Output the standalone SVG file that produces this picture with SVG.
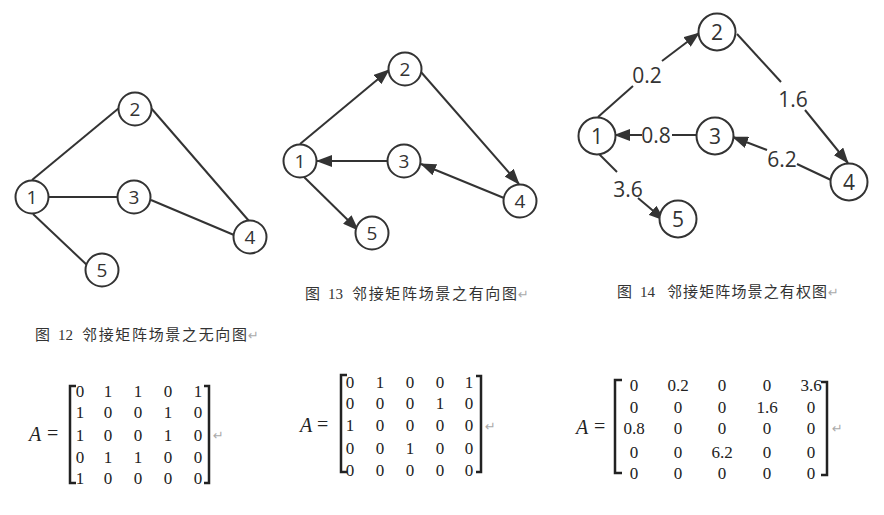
<svg xmlns="http://www.w3.org/2000/svg" width="884" height="515" viewBox="0 0 884 515">
<style>
.nd{fill:#fff;stroke:#333;stroke-width:2}
.nt{font-family:"Open Sans","DejaVu Sans",sans-serif;font-size:19px;fill:#333;text-anchor:middle}
.nt3{font-family:"Open Sans","DejaVu Sans",sans-serif;font-size:21px;fill:#333;text-anchor:middle}
.ed{stroke:#333;stroke-width:2;fill:none}
.ar{marker-end:url(#ah)}
.cap{font-family:"Noto Sans CJK SC","Liberation Serif",serif;font-size:15px;fill:#333}
.capn{font-family:"Liberation Serif",serif;font-size:15px;fill:#333}
.ret{font-family:"DejaVu Sans",sans-serif;font-size:13px;fill:#aaa}
.mx{font-family:"Liberation Serif","DejaVu Serif",serif;font-size:17px;fill:#222;text-anchor:middle}
.ma{font-family:"Liberation Serif","DejaVu Serif",serif;font-size:20px;fill:#222;font-style:italic}
.meq{font-family:"Liberation Serif","DejaVu Serif",serif;font-size:20px;fill:#222}
.br{stroke:#222;stroke-width:2.5;fill:none}
</style>
<defs>
<marker id="ah" markerWidth="16" markerHeight="12" refX="15" refY="6" orient="auto" markerUnits="userSpaceOnUse">
<path d="M0,0 L16,6 L0,12 z" fill="#333"/>
</marker>
</defs>

<g id="connectors">
<!-- graph 1 -->
<line class="ed" x1="32" y1="180" x2="119" y2="108"/>
<line class="ed" x1="151" y1="108" x2="249" y2="221"/>
<line class="ed" x1="49" y1="197" x2="117" y2="197"/>
<line class="ed" x1="151" y1="200" x2="234" y2="235"/>
<line class="ed" x1="33" y1="214" x2="88" y2="266"/>
<!-- graph 2 -->
<line class="ed ar" x1="300" y1="144" x2="389" y2="70"/>
<line class="ed ar" x1="421" y1="72" x2="519" y2="184"/>
<line class="ed ar" x1="387" y1="161" x2="317" y2="161"/>
<line class="ed ar" x1="504" y1="198" x2="421" y2="164"/>
<line class="ed ar" x1="303" y1="176" x2="358" y2="230"/>
<!-- graph 3 -->
<line class="ed" x1="598" y1="117" x2="633" y2="86"/>
<line class="ed ar" x1="662" y1="61" x2="699" y2="33"/>
<line class="ed" x1="737" y1="34" x2="781" y2="82"/>
<line class="ed ar" x1="805" y1="110" x2="848" y2="163"/>
<line class="ed" x1="697" y1="135" x2="672" y2="135"/>
<line class="ed ar" x1="642" y1="135" x2="615" y2="135"/>
<line class="ed" x1="831" y1="180" x2="797" y2="164"/>
<line class="ed ar" x1="767" y1="150" x2="733" y2="137"/>
<line class="ed" x1="599" y1="154" x2="617" y2="172"/>
<line class="ed ar" x1="638" y1="198" x2="664" y2="220"/>
<text class="nt3" x="647" y="83">0.2</text>
<text class="nt3" x="793" y="107">1.6</text>
<text class="nt3" x="656" y="143">0.8</text>
<text class="nt3" x="782" y="167">6.2</text>
<text class="nt3" x="628" y="197">3.6</text>
</g>

<g id="g1-n1"><circle class="nd" cx="32" cy="197" r="16.5"/><text class="nt" x="32" y="204">1</text></g>
<g id="g1-n2"><circle class="nd" cx="135" cy="109" r="16.5"/><text class="nt" x="135" y="116">2</text></g>
<g id="g1-n3"><circle class="nd" cx="134" cy="197" r="16.5"/><text class="nt" x="134" y="204">3</text></g>
<g id="g1-n4"><circle class="nd" cx="250" cy="237" r="16.5"/><text class="nt" x="250" y="244">4</text></g>
<g id="g1-n5"><circle class="nd" cx="102" cy="270" r="16.5"/><text class="nt" x="102" y="277">5</text></g>

<g id="g2-n1"><circle class="nd" cx="300" cy="161" r="16.5"/><text class="nt" x="300" y="168">1</text></g>
<g id="g2-n2"><circle class="nd" cx="405" cy="69" r="16.5"/><text class="nt" x="405" y="76">2</text></g>
<g id="g2-n3"><circle class="nd" cx="404" cy="161" r="16.5"/><text class="nt" x="404" y="168">3</text></g>
<g id="g2-n4"><circle class="nd" cx="520" cy="201" r="16.5"/><text class="nt" x="520" y="208">4</text></g>
<g id="g2-n5"><circle class="nd" cx="372" cy="233" r="16.5"/><text class="nt" x="372" y="240">5</text></g>

<g id="g3-n1"><circle class="nd" cx="597" cy="136" r="18.5"/><text class="nt3" x="597" y="143.5">1</text></g>
<g id="g3-n2"><circle class="nd" cx="717" cy="32" r="18.5"/><text class="nt3" x="717" y="39.5">2</text></g>
<g id="g3-n3"><circle class="nd" cx="715" cy="136" r="18.5"/><text class="nt3" x="715" y="143.5">3</text></g>
<g id="g3-n4"><circle class="nd" cx="849" cy="182" r="18.5"/><text class="nt3" x="849" y="189.5">4</text></g>
<g id="g3-n5"><circle class="nd" cx="678" cy="219" r="18.5"/><text class="nt3" x="678" y="226.5">5</text></g>

<g id="captions">
<text class="cap" x="35" y="340">图</text>
<text class="capn" x="58" y="340">12</text>
<text class="cap" x="82" y="340" textLength="165" lengthAdjust="spacing">邻接矩阵场景之无向图</text>
<text class="ret" x="248" y="340">↵</text>

<text class="cap" x="305" y="299">图</text>
<text class="capn" x="328" y="299">13</text>
<text class="cap" x="352" y="299" textLength="165" lengthAdjust="spacing">邻接矩阵场景之有向图</text>
<text class="ret" x="518" y="299">↵</text>

<text class="cap" x="617" y="297">图</text>
<text class="capn" x="640" y="297">14</text>
<text class="cap" x="667" y="297" textLength="160" lengthAdjust="spacing">邻接矩阵场景之有权图</text>
<text class="ret" x="828" y="297">↵</text>
</g>

<g id="matrix1">
<text class="ma" x="29" y="441">A</text>
<text class="meq" x="47" y="440">=</text>
<path class="br" d="M76,386 H70 V483 H76"/>
<path class="br" d="M204,386 H209 V483 H204"/>
<g class="mx">
<text x="80" y="397">0</text><text x="108" y="397">1</text><text x="138" y="397">1</text><text x="168" y="397">0</text><text x="198" y="397">1</text>
<text x="80" y="418">1</text><text x="108" y="418">0</text><text x="138" y="418">0</text><text x="168" y="418">1</text><text x="198" y="418">0</text>
<text x="80" y="441">1</text><text x="108" y="441">0</text><text x="138" y="441">0</text><text x="168" y="441">1</text><text x="198" y="441">0</text>
<text x="80" y="463">0</text><text x="108" y="463">1</text><text x="138" y="463">1</text><text x="168" y="463">0</text><text x="198" y="463">0</text>
<text x="80" y="484">1</text><text x="108" y="484">0</text><text x="138" y="484">0</text><text x="168" y="484">0</text><text x="198" y="484">0</text>
</g>
<text class="ret" x="213" y="440">↵</text>
</g>

<g id="matrix2">
<text class="ma" x="300" y="432">A</text>
<text class="meq" x="317" y="431">=</text>
<path class="br" d="M347,375 H341 V472 H347"/>
<path class="br" d="M476,376 H481 V472 H476"/>
<g class="mx">
<text x="350" y="388">0</text><text x="380" y="388">1</text><text x="410" y="388">0</text><text x="440" y="388">0</text><text x="469" y="388">1</text>
<text x="350" y="409">0</text><text x="380" y="409">0</text><text x="410" y="409">0</text><text x="440" y="409">1</text><text x="469" y="409">0</text>
<text x="350" y="431">1</text><text x="380" y="431">0</text><text x="410" y="431">0</text><text x="440" y="431">0</text><text x="469" y="431">0</text>
<text x="350" y="454">0</text><text x="380" y="454">0</text><text x="410" y="454">1</text><text x="440" y="454">0</text><text x="469" y="454">0</text>
<text x="350" y="476">0</text><text x="380" y="476">0</text><text x="410" y="476">0</text><text x="440" y="476">0</text><text x="469" y="476">0</text>
</g>
<text class="ret" x="485" y="431">↵</text>
</g>

<g id="matrix3">
<text class="ma" x="576" y="434">A</text>
<text class="meq" x="594" y="433">=</text>
<path class="br" d="M622,380 H615 V473 H622"/>
<path class="br" d="M821,382 H827 V475 H821"/>
<g class="mx">
<text x="634" y="391">0</text><text x="678" y="391">0.2</text><text x="722" y="391">0</text><text x="767" y="391">0</text><text x="811" y="391">3.6</text>
<text x="634" y="413">0</text><text x="678" y="413">0</text><text x="722" y="413">0</text><text x="767" y="413">1.6</text><text x="811" y="413">0</text>
<text x="634" y="434">0.8</text><text x="678" y="434">0</text><text x="722" y="434">0</text><text x="767" y="434">0</text><text x="811" y="434">0</text>
<text x="634" y="458">0</text><text x="678" y="458">0</text><text x="722" y="458">6.2</text><text x="767" y="458">0</text><text x="811" y="458">0</text>
<text x="634" y="479">0</text><text x="678" y="479">0</text><text x="722" y="479">0</text><text x="767" y="479">0</text><text x="811" y="479">0</text>
</g>
<text class="ret" x="832" y="433">↵</text>
</g>
</svg>
